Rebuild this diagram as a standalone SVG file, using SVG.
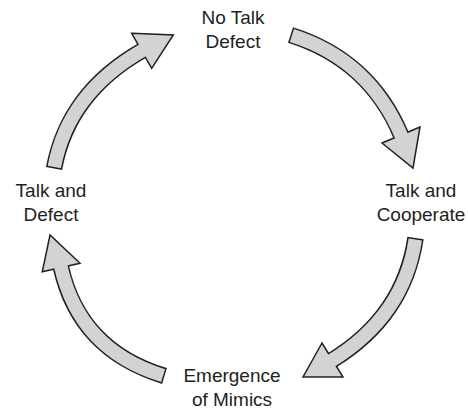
<svg xmlns="http://www.w3.org/2000/svg" width="468" height="413" viewBox="0 0 468 413">
  <style>
    .lbl { font-family: "Liberation Sans", Arial, sans-serif; font-size: 19px; fill: #231f20; text-anchor: middle; }
    .edge { fill: none; stroke: #231f20; stroke-width: 16.5; stroke-linecap: butt; }
    .core { fill: none; stroke: #d1d3d4; stroke-width: 13.5; stroke-linecap: butt; }
    .head { fill: #d1d3d4; stroke: #231f20; stroke-width: 1.5; stroke-linejoin: miter; }
  </style>
  <rect width="468" height="413" fill="#ffffff"/>
  <g id="connectors">
    <g id="arrow-top-right">
      <path class="edge" d="M290.5,35 Q369.5,60 401,135"/>
      <polygon class="head" points="382,143 413,168 420,127"/>
      <path class="core" d="M291.9,35.5 Q369.5,60 401.6,136.4"/>
    </g>
    <g id="arrow-bottom-right">
      <path class="edge" d="M415.5,238 Q404,316 332.5,360"/>
      <polygon class="head" points="322,343 303,377 343,377"/>
      <path class="core" d="M415.3,239.5 Q404,316 331.2,360.8"/>
    </g>
    <g id="arrow-bottom-left">
      <path class="edge" d="M164.5,376 Q79.4,349.9 61,267.5"/>
      <polygon class="head" points="42.3,271.7 50,235 80,263.3"/>
      <path class="core" d="M163.1,375.6 Q79.4,349.9 60.7,266"/>
    </g>
    <g id="arrow-top-left">
      <path class="edge" d="M54,168.5 Q68.2,92.8 141.7,50.8"/>
      <polygon class="head" points="131.7,33.3 173.3,35 151.7,68.3"/>
      <path class="core" d="M54.3,167 Q68.2,92.8 143,50.1"/>
    </g>
  </g>
  <g id="node-no-talk-defect">
    <text class="lbl" x="233" y="24">No Talk</text>
    <text class="lbl" x="233" y="48">Defect</text>
  </g>
  <g id="node-talk-cooperate">
    <text class="lbl" x="421" y="197">Talk and</text>
    <text class="lbl" x="421" y="221">Cooperate</text>
  </g>
  <g id="node-emergence-mimics">
    <text class="lbl" x="232" y="382">Emergence</text>
    <text class="lbl" x="232" y="406">of Mimics</text>
  </g>
  <g id="node-talk-defect">
    <text class="lbl" x="51" y="197">Talk and</text>
    <text class="lbl" x="51" y="221">Defect</text>
  </g>
</svg>
